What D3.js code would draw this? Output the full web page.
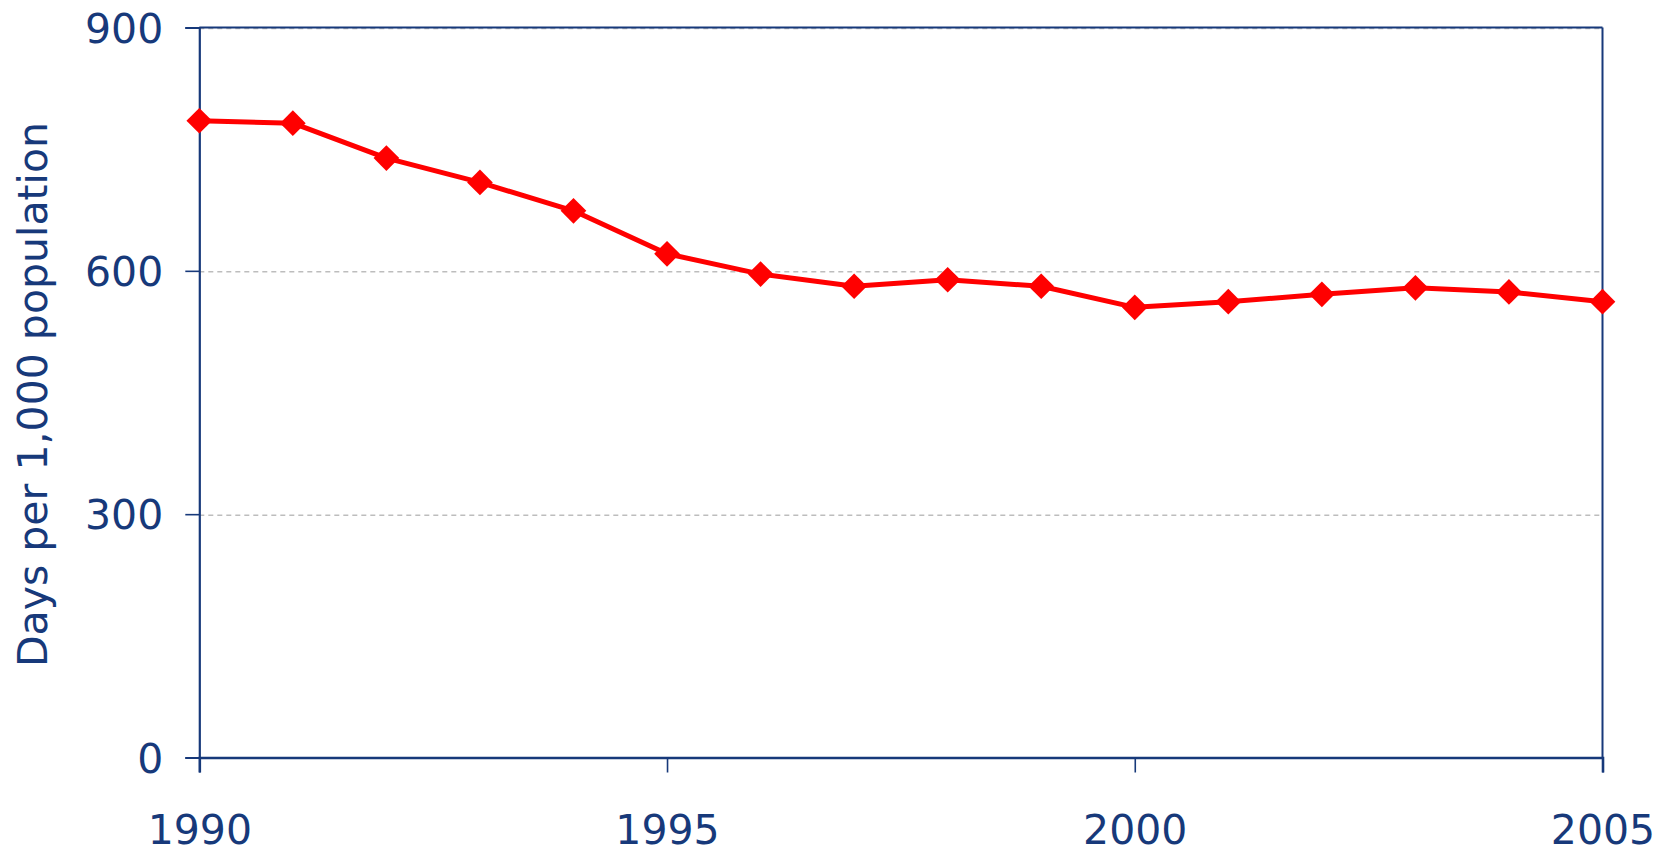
<!DOCTYPE html>
<html lang="en">
<head>
<meta charset="utf-8">
<title>Days per 1,000 population</title>
<script src="https://cdn.jsdelivr.net/npm/d3@7"></script>
<style>
  html, body { margin: 0; padding: 0; background: #fff; }
  svg { display: block; }
  text { font-family: "DejaVu Sans", sans-serif; fill: #17397a; }
  .grid line { stroke: #bdbdbd; stroke-width: 1.5; stroke-dasharray: 5,4; }
</style>
</head>
<body>
<script>

var years = [1990, 1991, 1992, 1993, 1994, 1995, 1996, 1997,
             1998, 1999, 2000, 2001, 2002, 2003, 2004, 2005];
var days = [785, 782, 739, 709, 674, 621, 596, 581,
            589, 581, 555, 562, 571, 579, 574, 562];
var xTicks = [1990, 1995, 2000, 2005];
var yTicks = [0, 300, 600, 900];
var yTitle = "Days per 1,000 population";

var width = 1656,
    height = 847,
    margin = {top: 27.5, right: 53.5, bottom: 89.5, left: 199.3},
    navy = "#17397a";

var svg = d3.select("body").append("svg")
    .attr("width", width)
    .attr("height", height);

var x = d3.scaleLinear()
    .domain([1990, 2005])
    .range([margin.left, width - margin.right]);

var y = d3.scaleLinear()
    .domain([0, 900])
    .range([height - margin.bottom, margin.top]);

// dashed gridlines
svg.append("g")
    .attr("class", "grid")
    .selectAll("line")
    .data(yTicks.filter(function(d) { return d > 0; }))
    .enter().append("line")
      .attr("x1", x(1990))
      .attr("x2", x(2005))
      .attr("y1", function(d) { return y(d) + 1; })
      .attr("y2", function(d) { return y(d) + 1; });

// frame: top and right edges
svg.append("line")
    .attr("x1", x(1990)).attr("x2", x(2005))
    .attr("y1", y(900)).attr("y2", y(900))
    .attr("stroke", navy).attr("stroke-width", 2);
svg.append("line")
    .attr("x1", x(2005)).attr("x2", x(2005))
    .attr("y1", y(900)).attr("y2", y(0))
    .attr("stroke", navy).attr("stroke-width", 2);

var yAxis = svg.append("g")
    .attr("transform", "translate(" + x(1990) + ",0)")
    .call(d3.axisLeft(y).tickValues(yTicks).tickSize(14).tickPadding(22));

var xAxis = svg.append("g")
    .attr("transform", "translate(0," + y(0) + ")")
    .call(d3.axisBottom(x).tickValues(xTicks).tickFormat(d3.format("d"))
      .tickSize(15).tickPadding(71));

[yAxis, xAxis].forEach(function(g) {
  g.select(".domain").attr("stroke", navy).attr("stroke-width", 2.2);
  g.selectAll(".tick line").attr("stroke", navy).attr("stroke-width", 1.6);
  g.selectAll(".tick text")
      .attr("fill", navy)
      .style("font-family", "'DejaVu Sans', sans-serif")
      .style("font-size", "41px");
});
yAxis.selectAll(".tick text").attr("dy", "0.36em");
xAxis.selectAll(".tick text").attr("dy", "0");
xAxis.select(".domain").attr("stroke-width", 2.6);

// axis title
svg.append("text")
    .attr("transform", "translate(47," + ((y(0) + y(900)) / 2 + 2) + ") rotate(-90)")
    .attr("text-anchor", "middle")
    .style("font-size", "41px")
    .text(yTitle);

var points = years.map(function(d, i) { return {year: d, value: days[i]}; });

var line = d3.line()
    .x(function(d) { return x(d.year); })
    .y(function(d) { return y(d.value); });

svg.append("path")
    .datum(points)
    .attr("fill", "none")
    .attr("stroke", "#ff0000")
    .attr("stroke-width", 5)
    .attr("stroke-linejoin", "round")
    .attr("d", line);

svg.selectAll(".marker")
    .data(points)
    .enter().append("path")
      .attr("class", "marker")
      .attr("fill", "#ff0000")
      .attr("d", d3.symbol().type(d3.symbolSquare).size(330))
      .attr("transform", function(d) {
        return "translate(" + x(d.year) + "," + y(d.value) + ") rotate(45)";
      });

</script>
</body>
</html>
